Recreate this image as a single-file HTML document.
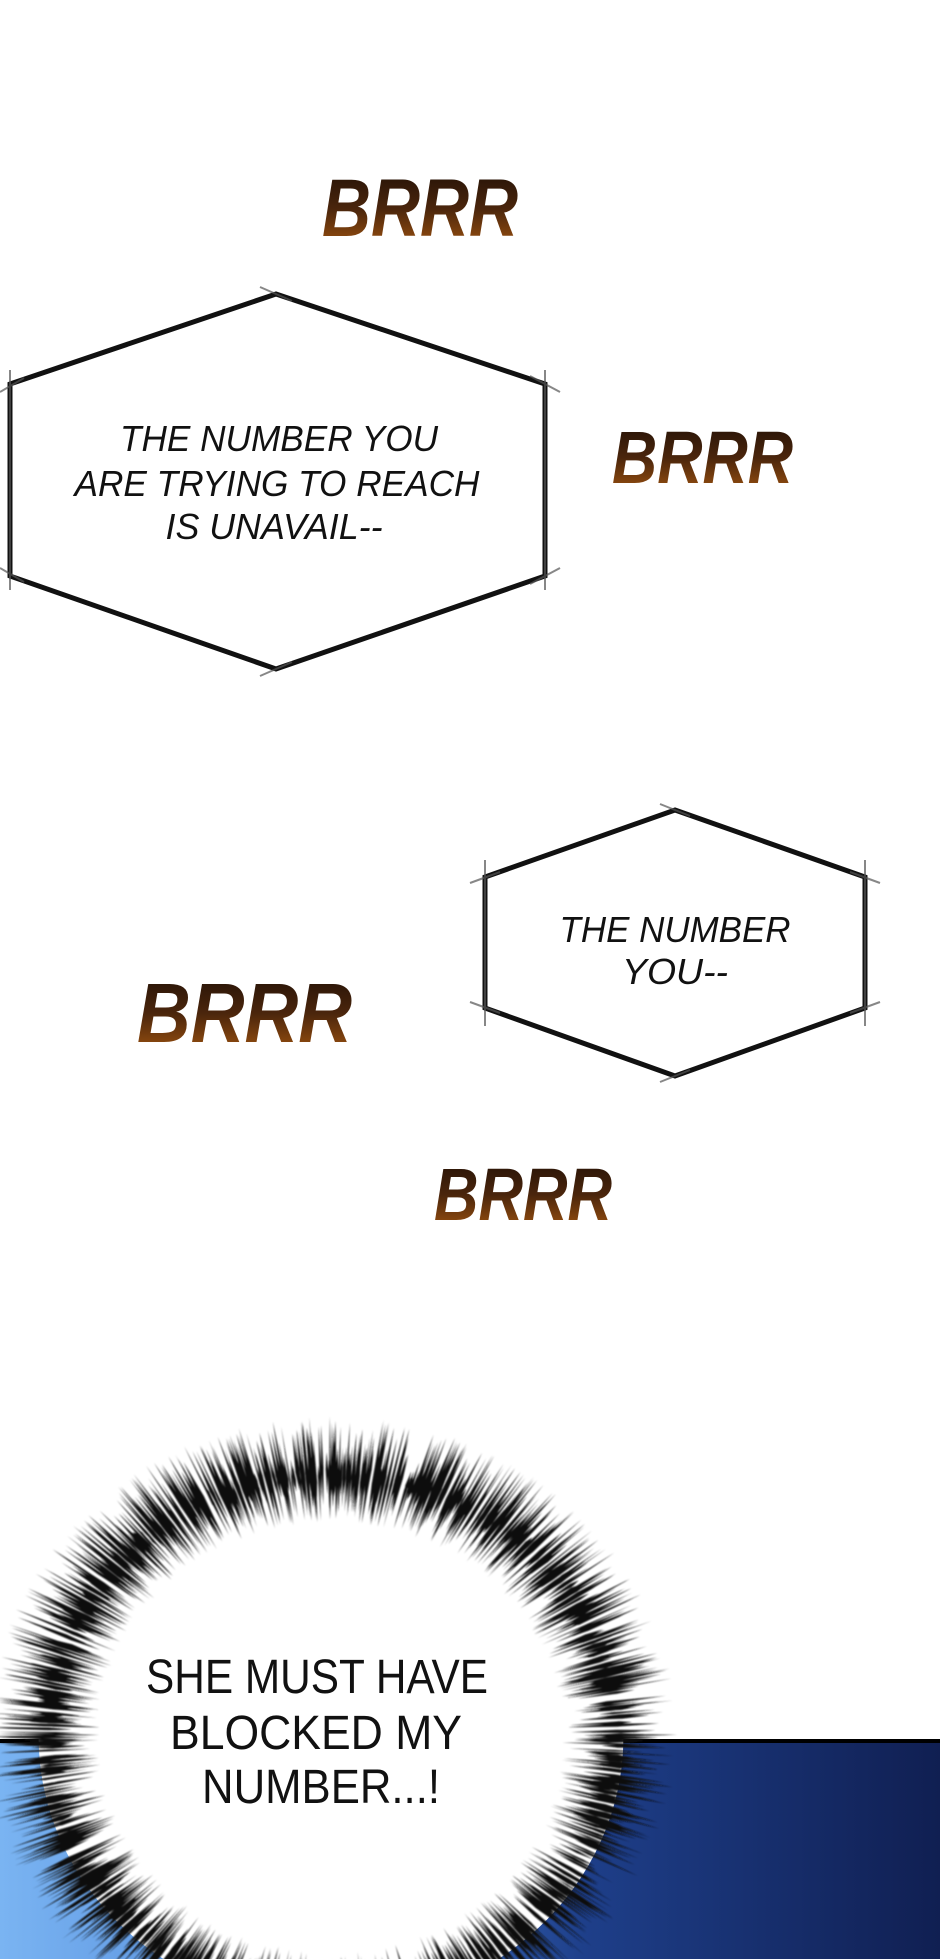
<!DOCTYPE html>
<html><head><meta charset="utf-8"><style>
html,body{margin:0;padding:0;background:#fff;width:940px;height:1959px;overflow:hidden;}
body{position:relative;}
svg{position:absolute;left:0;top:0;display:block;}
</style></head><body>
<svg id="s" width="940" height="1959" viewBox="0 0 940 1959" xmlns="http://www.w3.org/2000/svg">
<defs>
<linearGradient id="br" x1="0" y1="0" x2="0" y2="1">
<stop offset="0" stop-color="#1e0f06"/><stop offset="0.5" stop-color="#4a250c"/><stop offset="1" stop-color="#a8580f"/>
</linearGradient>
<linearGradient id="bl" x1="0" y1="0" x2="1" y2="0">
<stop offset="0" stop-color="#7ab4f2"/><stop offset="0.35" stop-color="#4a82d6"/><stop offset="0.62" stop-color="#1e3f8a"/><stop offset="1" stop-color="#101f52"/>
</linearGradient>
<filter id="bf" x="-10%" y="-10%" width="120%" height="120%"><feGaussianBlur stdDeviation="0.7"/></filter>
</defs>
<rect x="0" y="1741" width="940" height="218" fill="url(#bl)"/>
<rect x="0" y="1739" width="940" height="4" fill="#000"/>

<g font-family="Liberation Sans, sans-serif" font-weight="bold" font-style="italic" fill="url(#br)">
<text x="322" y="236" font-size="82" textLength="196" lengthAdjust="spacingAndGlyphs">BRRR</text>
<text x="612" y="483" font-size="74" textLength="181" lengthAdjust="spacingAndGlyphs">BRRR</text>
<text x="137" y="1042" font-size="84" textLength="215" lengthAdjust="spacingAndGlyphs">BRRR</text>
<text x="434" y="1220" font-size="74" textLength="178" lengthAdjust="spacingAndGlyphs">BRRR</text>
</g>

<g fill="none" stroke="#111" stroke-width="5" stroke-linejoin="miter">
<polygon points="276,294 545,384 545,576 276,669 10,576 10,384"/>
<polygon points="675,810 865,877 865,1008 675,1076 485,1008 485,877"/>
</g>
<g stroke="#555" stroke-width="2" opacity="0.7">
<line x1="260" y1="287" x2="292" y2="301"/><line x1="260" y1="676" x2="292" y2="662"/>
<line x1="545" y1="370" x2="545" y2="590"/><line x1="10" y1="370" x2="10" y2="590"/>
<line x1="530" y1="376" x2="560" y2="392"/><line x1="0" y1="392" x2="24" y2="378"/>
<line x1="0" y1="568" x2="24" y2="582"/><line x1="530" y1="584" x2="560" y2="568"/>
<line x1="660" y1="804" x2="690" y2="816"/><line x1="660" y1="1082" x2="690" y2="1070"/>
<line x1="485" y1="860" x2="485" y2="1026"/><line x1="865" y1="860" x2="865" y2="1026"/>
<line x1="470" y1="883" x2="500" y2="872"/><line x1="850" y1="872" x2="880" y2="883"/>
<line x1="470" y1="1002" x2="500" y2="1013"/><line x1="850" y1="1013" x2="880" y2="1002"/>
</g>

<g font-family="Liberation Sans, sans-serif" font-style="italic" fill="#111" text-anchor="middle">
<text x="279" y="451" font-size="36" textLength="318" lengthAdjust="spacingAndGlyphs">THE NUMBER YOU</text>
<text x="277" y="496" font-size="36" textLength="405" lengthAdjust="spacingAndGlyphs">ARE TRYING TO REACH</text>
<text x="274" y="539" font-size="36" textLength="217" lengthAdjust="spacingAndGlyphs">IS UNAVAIL--</text>
<text x="675" y="942" font-size="36" textLength="231" lengthAdjust="spacingAndGlyphs">THE NUMBER</text>
<text x="675" y="984" font-size="36" textLength="106" lengthAdjust="spacingAndGlyphs">YOU--</text>
</g>

<g id="burst"></g>
<g font-family="Liberation Sans, sans-serif" fill="#111" text-anchor="middle">
<text x="317" y="1693" font-size="48" textLength="342" lengthAdjust="spacingAndGlyphs">SHE MUST HAVE</text>
<text x="316" y="1749" font-size="48" textLength="292" lengthAdjust="spacingAndGlyphs">BLOCKED MY</text>
<text x="321" y="1803" font-size="48" textLength="238" lengthAdjust="spacingAndGlyphs">NUMBER...!</text>
</g>
</svg>
<script>
(function(){
var g=document.getElementById('burst'),ns='http://www.w3.org/2000/svg';
var cx=331,cy=1737,rx=340,ry=315;
var seed=7;function r(){seed=(seed*16807)%2147483647;return seed/2147483647;}
var el=document.createElementNS(ns,'ellipse');
el.setAttribute('cx',cx);el.setAttribute('cy',cy);el.setAttribute('rx',rx*0.86);el.setAttribute('ry',ry*0.86);el.setAttribute('fill','#fff');
g.appendChild(el);
var d='';
function P(t,a){return [cx+rx*t*Math.cos(a),cy+ry*t*Math.sin(a)];}
for(var i=0;i<1300;i++){
 var a=r()*Math.PI*2;
 var t1=0.68+r()*0.12, t2=0.86+r()*0.16;
 var tm=0.81+r()*0.05;
 var w=0.0025+r()*0.004;
 var p1=P(t1,a),p2=P(tm,a-w),p3=P(t2,a),p4=P(tm,a+w);
 d+='M'+p1[0].toFixed(1)+' '+p1[1].toFixed(1)+'L'+p2[0].toFixed(1)+' '+p2[1].toFixed(1)+'L'+p3[0].toFixed(1)+' '+p3[1].toFixed(1)+'L'+p4[0].toFixed(1)+' '+p4[1].toFixed(1)+'Z';
}
var p=document.createElementNS(ns,'path');p.setAttribute('d',d);p.setAttribute('fill','#111');p.setAttribute('filter','url(#bf)');
g.appendChild(p);
var inner=document.createElementNS(ns,'ellipse');
inner.setAttribute('cx',cx);inner.setAttribute('cy',cy);inner.setAttribute('rx',rx*0.68);inner.setAttribute('ry',ry*0.64);inner.setAttribute('fill','#fff');
g.appendChild(inner);
})();
</script>
</body></html>
